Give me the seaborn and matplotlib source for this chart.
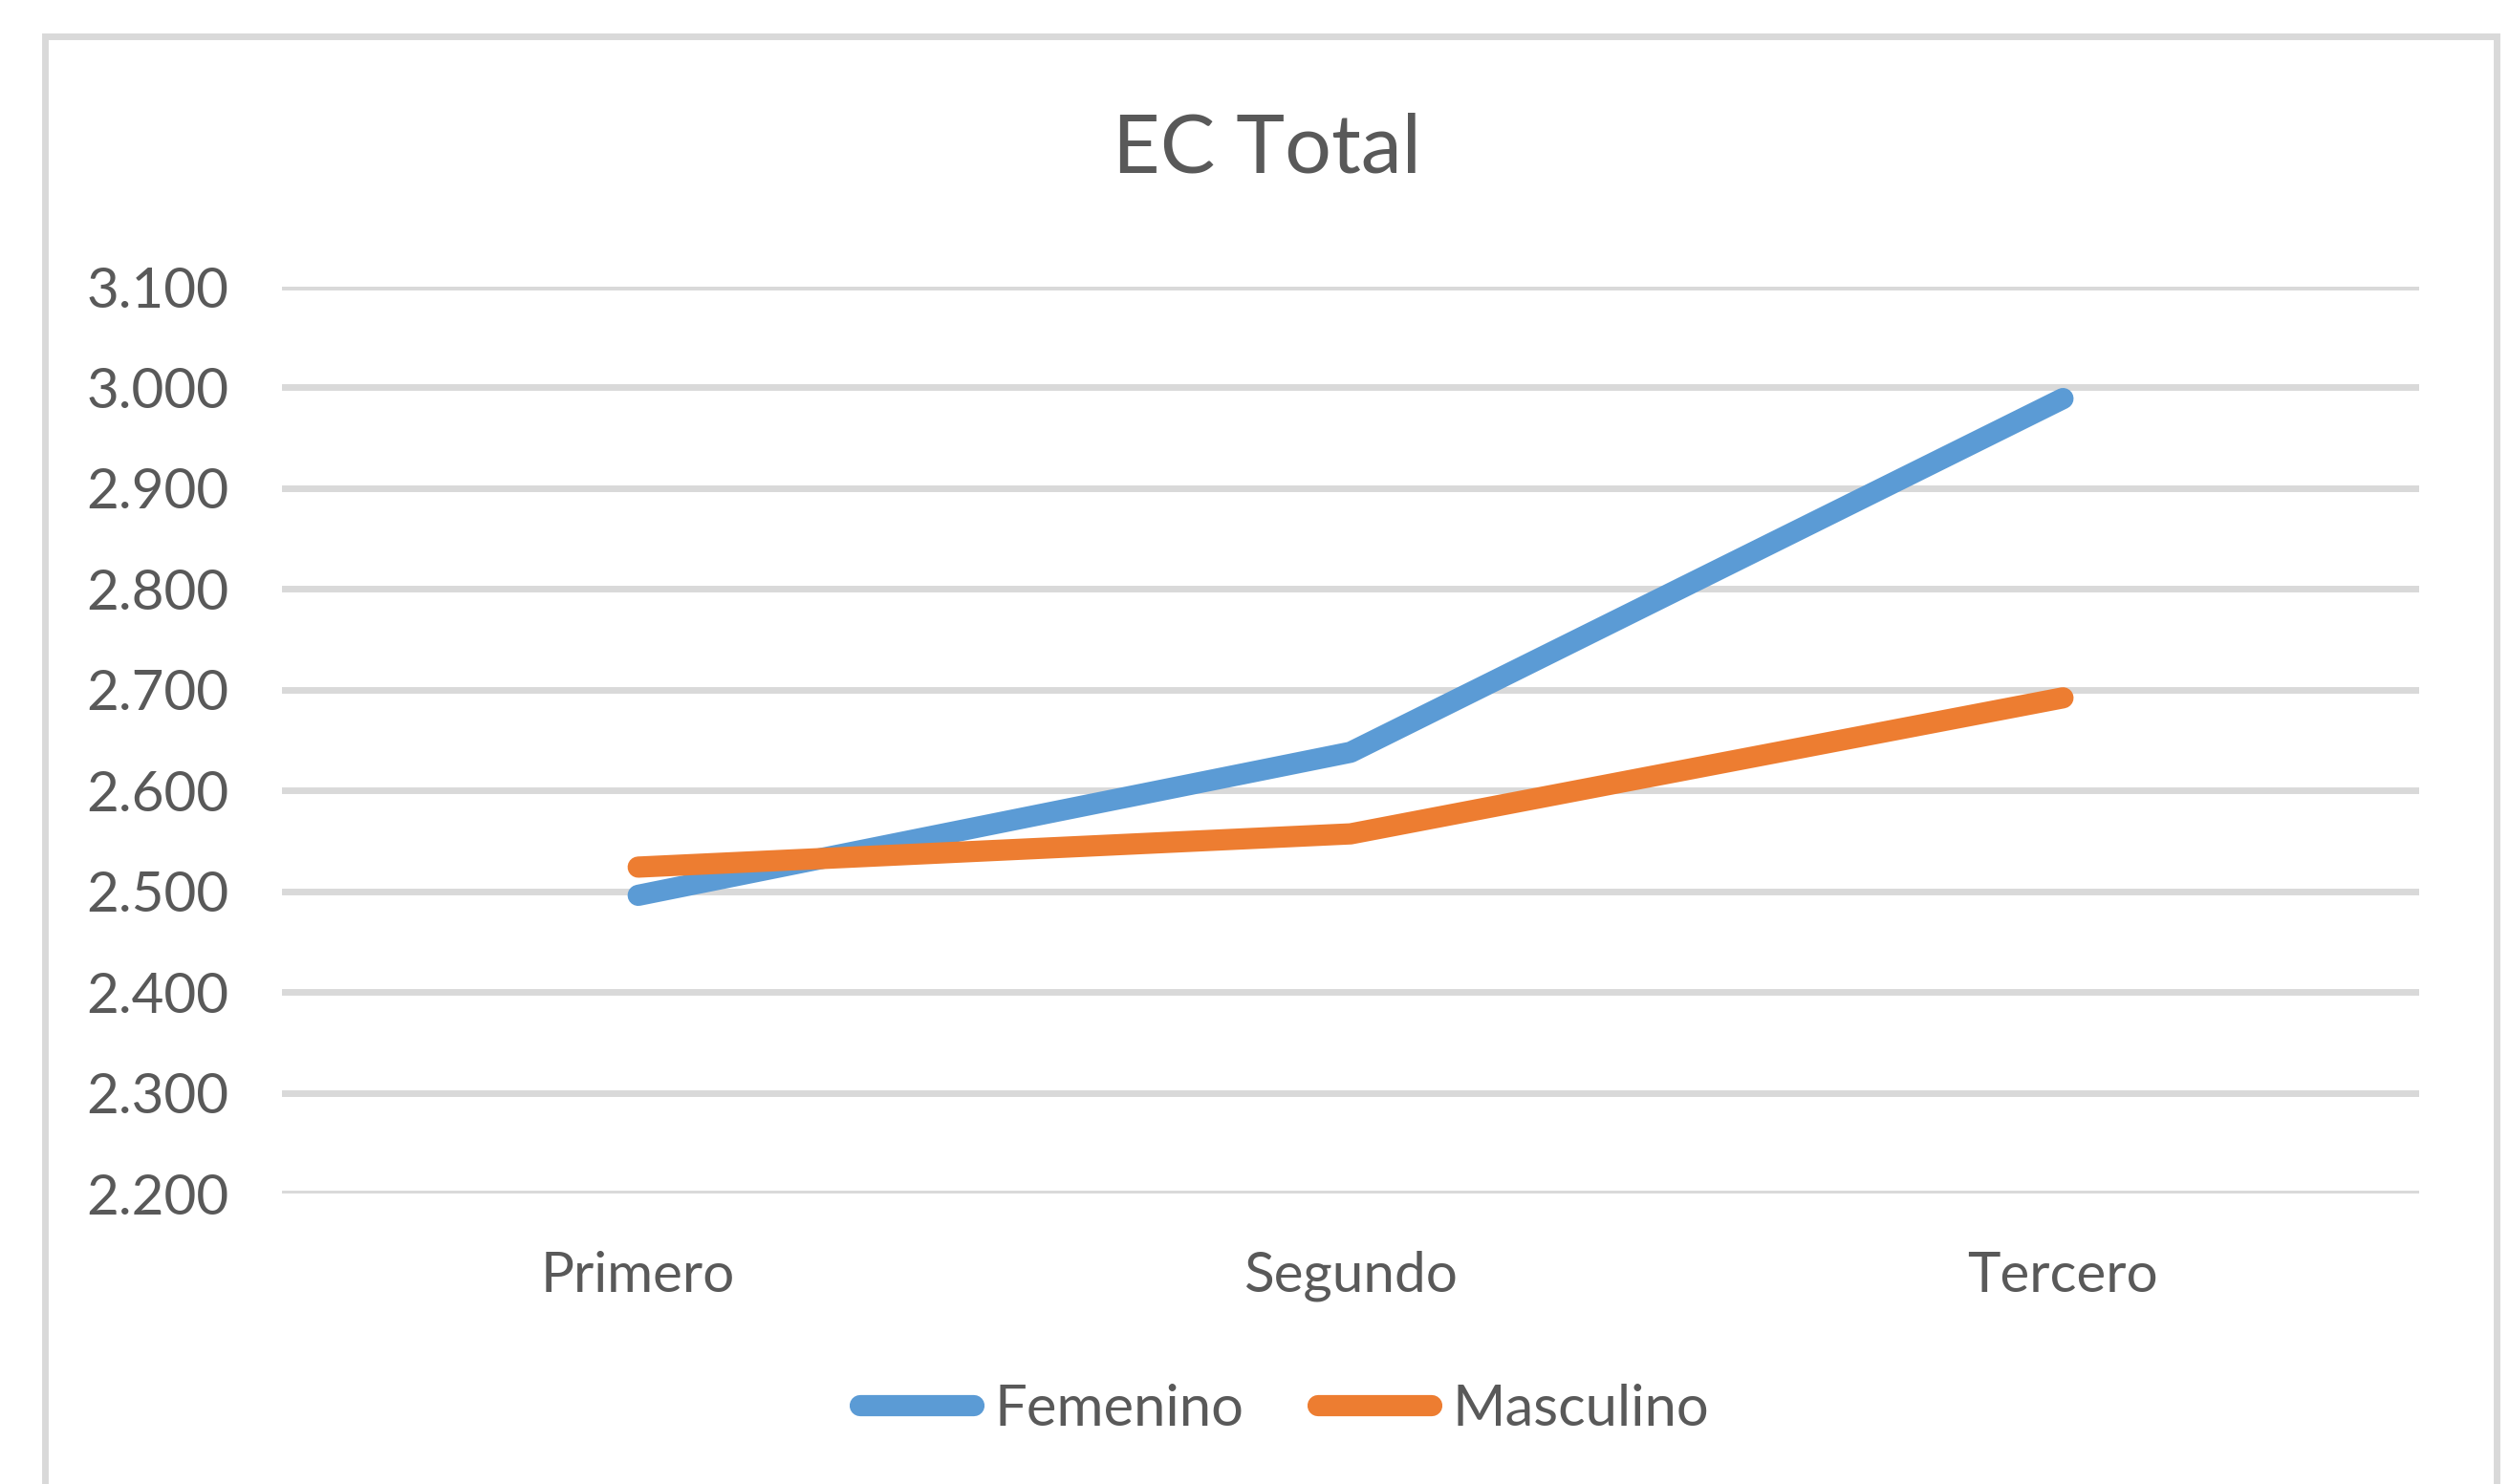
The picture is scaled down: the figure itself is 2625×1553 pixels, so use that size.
import pandas as pd
import matplotlib.pyplot as plt
import seaborn as sns
from matplotlib.patches import Rectangle
from matplotlib.ticker import FuncFormatter

# values
cursos = ['Primero', 'Segundo', 'Tercero']
femenino = [2.496, 2.638, 2.989]
masculino = [2.524, 2.557, 2.692]
series = ['Femenino', 'Masculino']
colores = ['#5B9BD5', '#ED7D31']
yticks = [2.2, 2.3, 2.4, 2.5, 2.6, 2.7, 2.8, 2.9, 3.0, 3.1]

df = pd.DataFrame({
    'Curso': cursos * 2,
    'EC': femenino + masculino,
    'Sexo': [series[0]] * 3 + [series[1]] * 3,
})

sns.set_style('white')
plt.rcParams['font.family'] = ['Lato', 'DejaVu Sans']
gris = '#595959'

fig = plt.figure(figsize=(26.25, 15.53), dpi=100)
ax = fig.add_axes([0.1124, 0.1957, 0.8518, 0.6111])

sns.lineplot(data=df, x='Curso', y='EC', hue='Sexo', palette=colores,
             linewidth=16, solid_capstyle='round', sort=False, ax=ax, legend=False)

ax.set_xlim(-0.5, 2.5)
ax.set_ylim(2.2, 3.1)
ax.set_yticks(yticks)
ax.yaxis.set_major_formatter(FuncFormatter(lambda v, p: f'{v:.3f}'))
ax.grid(axis='y', color='#d9d9d9', linewidth=5)
ax.set_axisbelow(True)
for s in ax.spines.values():
    s.set_visible(False)
ax.tick_params(axis='both', length=0, labelsize=42, labelcolor=gris)
ax.tick_params(axis='y', pad=40)
ax.tick_params(axis='x', pad=43)
ax.set_xlabel('')
ax.set_ylabel('')

fig.text(0.505, 0.899, 'EC Total', ha='center', va='center', fontsize=62, color=gris)

handles = [plt.Line2D([], [], color=c, linewidth=16, solid_capstyle='round') for c in colores]
fig.legend(handles, series, loc='center', bbox_to_anchor=(0.512, 0.050), ncol=2,
           frameon=False, fontsize=43, labelcolor=gris, handlelength=2.0,
           handletextpad=0.35, columnspacing=1.3)

# outer chart border
fig.add_artist(Rectangle((47 / 2625, -0.05), (2612 - 47) / 2625, 1.05 - 38 / 1553,
                         transform=fig.transFigure, fill=False,
                         edgecolor='#d9d9d9', linewidth=5))

fig.savefig('out.png', dpi=100)
